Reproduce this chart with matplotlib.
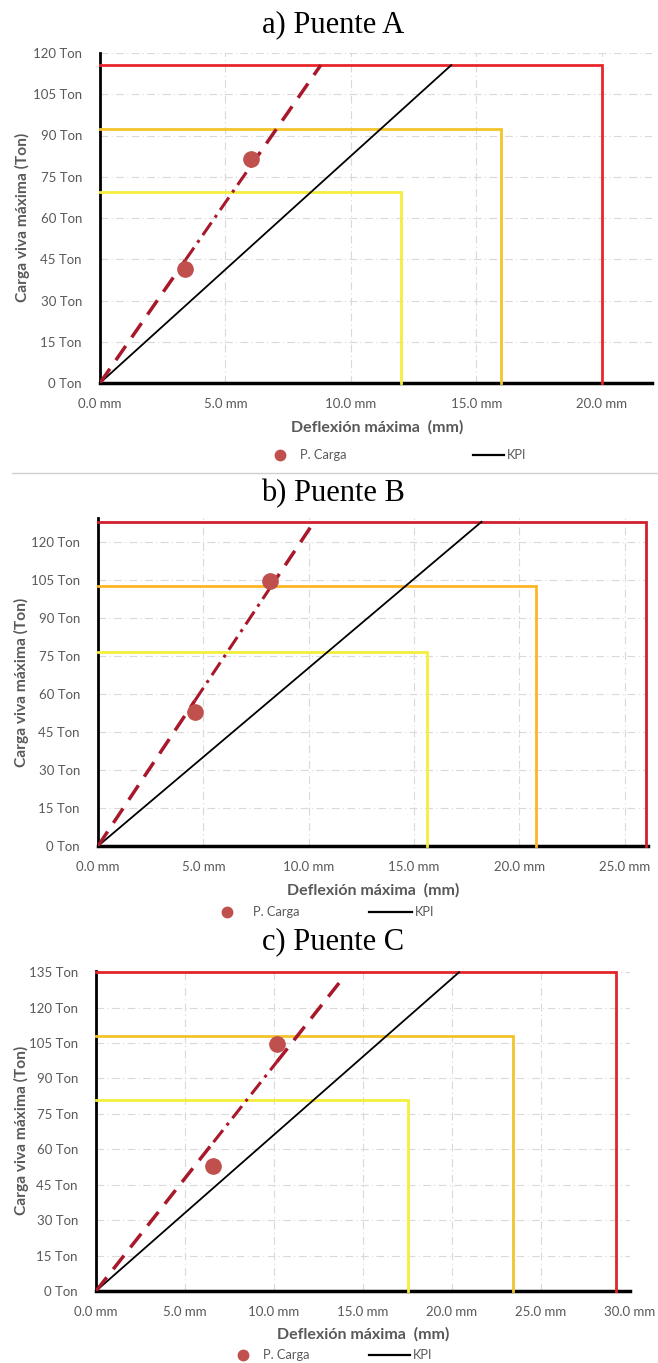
import matplotlib
matplotlib.use('Agg')
import matplotlib.pyplot as plt
from matplotlib.lines import Line2D
from matplotlib.ticker import FuncFormatter

W, H = 658, 1363

# ---- data ----
# Puente A
a_pts_x = [3.4, 6.0]
a_pts_y = [41.5, 81.3]
a_kpi_end = [14.0, 115.6]
a_trend_end = [8.8, 115.6]
a_lim_x = [12.0, 16.0, 20.0]
a_lim_y = [69.3, 92.4, 115.6]

# Puente B
b_pts_x = [4.6, 8.15]
b_pts_y = [52.9, 104.6]
b_kpi_end = [18.2, 128.0]
b_trend_end = [10.2, 127.3]
b_lim_x = [15.6, 20.8, 26.0]
b_lim_y = [76.6, 102.5, 128.0]

# Puente C
c_pts_x = [6.6, 10.15]
c_pts_y = [53.0, 104.6]
c_kpi_end = [20.4, 135.0]
c_trend_end = [13.8, 131.8]
c_lim_x = [17.5, 23.4, 29.2]
c_lim_y = [80.9, 107.9, 135.0]

titles = ['a) Puente A', 'b) Puente B', 'c) Puente C']
xmax = [22.0, 26.1, 30.0]
ymax = [120.0, 129.5, 135.5]
yticks_top = [120, 120, 135]
xticks_top = [20, 25, 30]

lim_colors = [['#F4EE3C', '#F2C42A', '#E8262B'],
              ['#F4EE3C', '#FDB526', '#D0202E'],
              ['#F4EE3C', '#F2C42A', '#E0262B']]

# panel boxes in pixels: left, top, right, bottom
boxes = [(100, 53, 652, 383), (98, 518, 648, 846), (96, 971, 630, 1291)]
title_y = [25, 494, 942]
xlabel_pos = [(377, 427), (373, 890), (363, 1334)]
ylabel_pos = [(22, 217), (21, 682), (21, 1130)]
# legend: marker x, text x, line x0, x1, y
legend_pos = [(280, 300, 473, 504, 455), (227, 253, 369, 412, 912), (243, 263, 369, 410, 1355)]

GRAY = '#595959'
PT_COLOR = '#C0504D'
TREND_COLOR = '#A8182A'

fig = plt.figure(figsize=(W / 100, H / 100), dpi=100)
fig.patch.set_facecolor('white')

panels = [
    (a_pts_x, a_pts_y, a_kpi_end, a_trend_end, a_lim_x, a_lim_y),
    (b_pts_x, b_pts_y, b_kpi_end, b_trend_end, b_lim_x, b_lim_y),
    (c_pts_x, c_pts_y, c_kpi_end, c_trend_end, c_lim_x, c_lim_y),
]

for i, (px, py, kpi, trend, lx, ly) in enumerate(panels):
    l, t, r, b = boxes[i]
    ax = fig.add_axes([l / W, 1 - b / H, (r - l) / W, (b - t) / H])
    ax.set_xlim(0, xmax[i])
    ax.set_ylim(0, ymax[i])
    ax.set_xticks(range(0, xticks_top[i] + 1, 5))
    ax.set_yticks(range(0, yticks_top[i] + 1, 15))
    ax.xaxis.set_major_formatter(FuncFormatter(lambda v, p: '%.1f mm' % v))
    ax.yaxis.set_major_formatter(FuncFormatter(lambda v, p: '%d Ton' % v))
    ax.tick_params(length=0, labelsize=9.5, labelcolor=GRAY, pad=11)
    ax.tick_params(axis='y', pad=13)
    for lab in ax.get_xticklabels() + ax.get_yticklabels():
        lab.set_family('Lato')
    ax.grid(True, color='#d9d9d9', linestyle=(0, (7, 3, 1, 3)), linewidth=0.8)
    ax.set_axisbelow(True)
    for s in ['top', 'right']:
        ax.spines[s].set_visible(False)
    ax.spines['left'].set_linewidth(2.0)
    ax.spines['bottom'].set_linewidth(2.5)

    # limit lines
    for xv, yv, col in zip(lx, ly, lim_colors[i]):
        ax.plot([0, xv, xv], [yv, yv, 0], color=col, lw=2.0, solid_joinstyle='miter', clip_on=False, zorder=3)

    # KPI line
    ax.plot([0, kpi[0]], [0, kpi[1]], color='black', lw=1.3, zorder=4)

    # trend line: dashed, dash-dot between the two points, dashed again
    slope = trend[1] / trend[0]
    ax.plot([0, px[0]], [0, slope * px[0]], color=TREND_COLOR, lw=2.5, linestyle=(0, (5, 3)), zorder=5)
    ax.plot([px[0], px[1]], [slope * px[0], slope * px[1]], color=TREND_COLOR, lw=2.2,
            linestyle=(0, (5, 2, 1, 2)), zorder=5)
    ax.plot([px[1], trend[0]], [slope * px[1], trend[1]], color=TREND_COLOR, lw=2.5, linestyle=(0, (5, 3)), zorder=5)

    # measured points
    ax.plot(px, py, 'o', color=PT_COLOR, ms=11, zorder=6, clip_on=False)

    fig.text(333 / W, 1 - title_y[i] / H, titles[i], ha='center', va='center',
             family='Liberation Serif', fontsize=22)
    fig.text(xlabel_pos[i][0] / W, 1 - xlabel_pos[i][1] / H, 'Deflexión máxima  (mm)', ha='center', va='center',
             family='Lato', fontweight='bold', fontsize=11.5, color=GRAY)
    fig.text(ylabel_pos[i][0] / W, 1 - ylabel_pos[i][1] / H, 'Carga viva máxima (Ton)', ha='center', va='center',
             rotation=90, family='Lato', fontweight='bold', fontsize=11.2, color=GRAY)

    mx, tx, lx0, lx1, ly0 = legend_pos[i]
    fig.add_artist(Line2D([mx / W], [1 - ly0 / H], marker='o', color=PT_COLOR, ms=7.5, transform=fig.transFigure))
    fig.text(tx / W, 1 - ly0 / H, 'P. Carga', ha='left', va='center', family='Lato', fontsize=9.3, color=GRAY)
    fig.add_artist(Line2D([lx0 / W, lx1 / W], [1 - ly0 / H, 1 - ly0 / H], color='black', lw=1.6,
                          transform=fig.transFigure))
    fig.text((lx1 + 3) / W, 1 - ly0 / H, 'KPI', ha='left', va='center', family='Lato', fontsize=9.3, color=GRAY)

# thin separator between panel a and b
fig.add_artist(Line2D([12 / W, 1], [1 - 473 / H, 1 - 473 / H], color='#d0d0d0', lw=1.0, transform=fig.transFigure))

fig.savefig('out.png', dpi=100, facecolor='white')
